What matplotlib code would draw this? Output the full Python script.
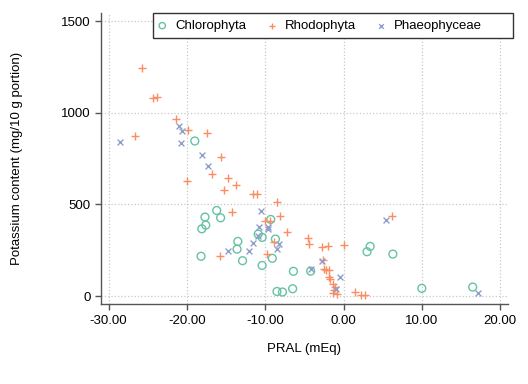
import matplotlib
matplotlib.use("Agg")
import matplotlib.pyplot as plt
from matplotlib.patches import Rectangle

plt.rcParams['font.family'] = ['Liberation Sans', 'DejaVu Sans']

# Chlorophyta (green algae)
chloro_x = [-19.0, -16.2, -17.7, -15.7, -17.6, -18.1, -18.2, -13.5, -13.6, -12.9,
            -10.4, -10.9, -10.4, -9.3, -8.7, -9.1, -6.4, -6.5, -8.5, -7.8,
            -4.2, 3.0, 3.4, 6.3, 10.0, 16.5]
chloro_y = [846, 467, 431, 427, 387, 367, 217, 298, 256, 193,
            167, 338, 320, 418, 311, 206, 135, 40, 25, 22,
            136, 242, 271, 229, 42, 49]

# Rhodophyta (red algae)
rhodo_x = [-25.8, -24.3, -23.8, -21.4, -19.9, -26.7, -17.5, -15.7, -20.0, -16.8,
           -14.8, -15.3, -13.8, -11.6, -11.0, -8.5, -14.3, -8.1, -10.0, -9.4,
           -7.2, -15.8, -9.8, -8.9, -4.6, -4.4, -2.8, -2.0, 0.0, -2.6,
           -2.5, -1.9, -2.2, -1.9, -1.7, -1.4, -1.1, -1.2, -1.4, -0.8,
           1.5, 2.2, 2.7, 6.2]
rhodo_y = [1244, 1082, 1084, 964, 904, 871, 889, 758, 627, 667,
           645, 578, 604, 556, 556, 511, 458, 438, 408, 411,
           347, 218, 229, 295, 316, 284, 270, 275, 278, 198,
           146, 142, 140, 106, 93, 68, 51, 33, 14, 12,
           24, 7, 7, 435]

# Phaeophyceae (brown algae)
phaeo_x = [-28.6, -21.0, -20.6, -20.8, -18.1, -17.3, -10.6, -10.8, -9.6, -9.6,
           -11.6, -12.1, -14.8, -8.2, -8.5, -10.9, -2.8, -0.5, -0.9, -4.2,
           5.4, 17.2]
phaeo_y = [840, 926, 902, 833, 768, 709, 462, 375, 375, 364,
           291, 247, 247, 285, 256, 330, 192, 105, 40, 146,
           415, 16]

xticks = [-30, -20, -10, 0, 10, 20]
yticks = [0, 500, 1000, 1500]

W, H = 528, 384
fig = plt.figure(figsize=(W / 100, H / 100), dpi=100)
ax = fig.add_axes([0.191, 0.208, 0.771, 0.758])

ax.scatter(chloro_x, chloro_y, s=32, facecolors='none', edgecolors='#66c2a5',
           linewidths=1.0, marker='o', label='Chlorophyta', zorder=3)
ax.scatter(rhodo_x, rhodo_y, s=32, color='#fc8d62', linewidths=1.0,
           marker='+', label='Rhodophyta', zorder=3)
ax.scatter(phaeo_x, phaeo_y, s=18, color='#8da0cb', linewidths=1.0,
           marker='x', label='Phaeophyceae', zorder=3)

ax.set_xlim(-31, 21)
ax.set_ylim(-44, 1544)
ax.set_xticks(xticks)
ax.set_xticklabels(['%.2f' % v for v in xticks])
ax.set_yticks(yticks)
ax.set_yticklabels([str(v) for v in yticks])

ax.grid(True, linestyle=':', color='#c8c8c8', linewidth=0.9)
ax.set_axisbelow(True)

for side in ['top', 'right']:
    ax.spines[side].set_visible(False)
for side in ['left', 'bottom']:
    ax.spines[side].set_color('#555555')
    ax.spines[side].set_linewidth(1.0)
ax.tick_params(direction='out', length=4, width=1, color='#555555',
               labelsize=9.5, labelcolor='black')

ax.set_xlabel('PRAL (mEq)', fontsize=9.5, labelpad=12)
ax.set_ylabel('Potassium content (mg/10 g portion)', fontsize=9.5, labelpad=27)

# legend box drawn by hand so it can be wider than its entries
box = Rectangle((153 / W, 1 - 38 / H), 360 / W, 25 / H, transform=fig.transFigure,
                facecolor='white', edgecolor='#333333', linewidth=1.0,
                clip_on=False, zorder=4)
ax.add_patch(box)
leg = ax.legend(loc='center left', bbox_to_anchor=(153 / W, 1 - 26 / H),
                bbox_transform=fig.transFigure, ncol=3, fontsize=9.5,
                frameon=False, handlelength=0.8, handletextpad=0.6,
                columnspacing=1.5, borderpad=0.3, borderaxespad=0,
                markerscale=0.8)
leg.set_zorder(5)

fig.savefig('out.png', dpi=100)
